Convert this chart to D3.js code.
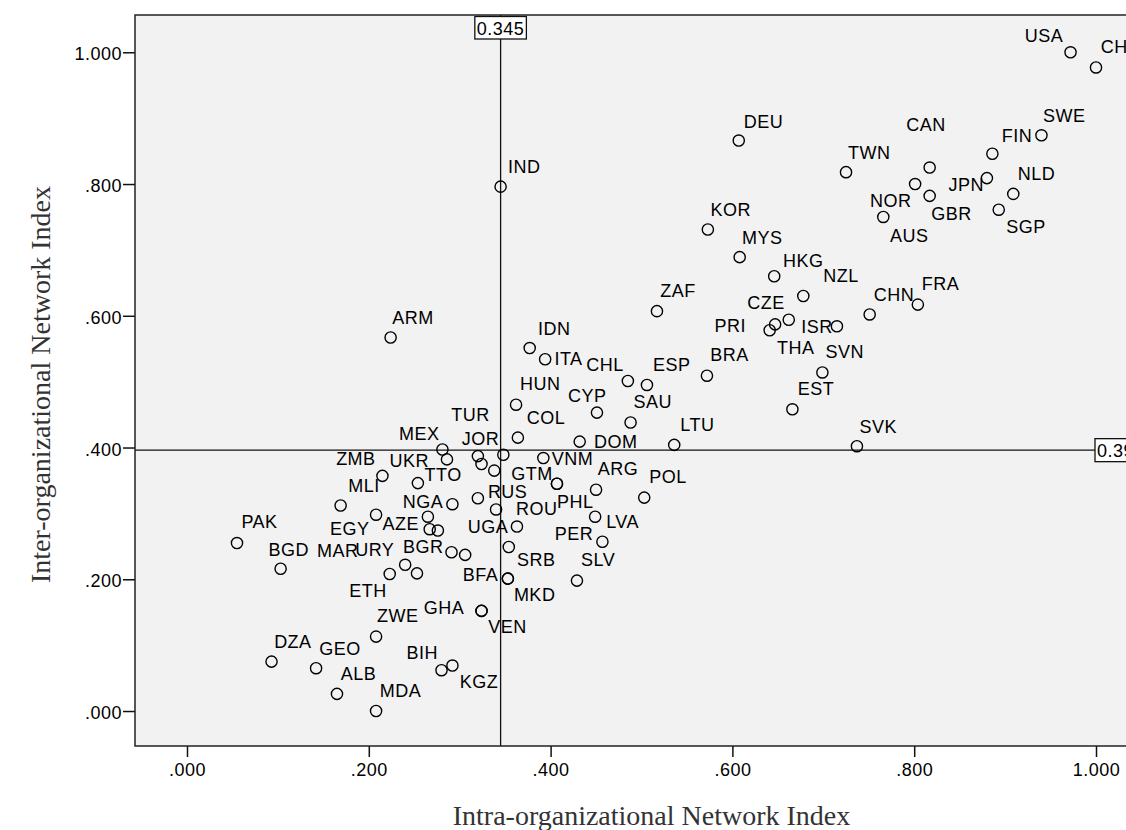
<!DOCTYPE html>
<html>
<head>
<meta charset="utf-8">
<script src="https://cdn.jsdelivr.net/npm/d3@7/dist/d3.min.js"></script>
<style>
  html, body { margin: 0; padding: 0; background: #ffffff; }
  svg { display: block; }
  .tick text, .pt-label, .ref-label { font-family: "Liberation Sans", Arial, sans-serif; font-size: 18px; letter-spacing: 0.5px; fill: #000; }
  .axis-title { font-family: "Liberation Serif", "Times New Roman", serif; font-size: 28px; fill: #333; }
</style>
</head>
<body>
<svg id="chart" width="1126" height="830"></svg>
<script>
// Country codes (ISO 3166 alpha-3) with their two network indices
const codes = ["USA","CHE","SWE","FIN","CAN","TWN","NLD","JPN","NOR","GBR","SGP","AUS",
  "DEU","IND","KOR","MYS","HKG","NZL","CHN","FRA","ZAF","CZE","PRI","THA","ISR","SVN",
  "EST","SVK","IDN","ITA","CHL","ESP","BRA","SAU","CYP","HUN","COL","LTU","DOM","ARM",
  "VNM","GTM","PHL","ARG","POL","LVA","PER","UGA","SRB","SLV","BFA","MKD","MEX","UKR",
  "TUR","JOR","ZMB","TTO","MLI","NGA","RUS","ROU","EGY","AZE","PAK","BGD","MAR","URY",
  "BGR","ETH","GHA","VEN","ZWE","DZA","GEO","BIH","KGZ","ALB","MDA",
  "","","","",""];

// Intra-organizational Network Index
const intra = [0.972,1.000,0.940,0.886,0.817,0.725,0.909,0.880,0.801,0.817,0.893,0.766,
  0.607,0.345,0.573,0.608,0.646,0.678,0.751,0.804,0.517,0.662,0.647,0.641,0.715,0.699,
  0.666,0.737,0.377,0.394,0.485,0.506,0.572,0.488,0.451,0.362,0.364,0.536,0.432,0.224,
  0.392,0.407,0.407,0.450,0.503,0.449,0.457,0.363,0.354,0.429,0.353,0.353,0.281,0.286,
  0.320,0.348,0.215,0.254,0.169,0.292,0.320,0.340,0.208,0.267,0.055,0.103,0.223,0.240,
  0.291,0.253,0.324,0.324,0.208,0.093,0.142,0.280,0.292,0.165,0.208,
  0.324,0.338,0.265,0.276,0.306];

// Inter-organizational Network Index
const inter = [1.000,0.977,0.874,0.846,0.825,0.818,0.785,0.809,0.800,0.782,0.761,0.750,
  0.866,0.796,0.731,0.689,0.660,0.630,0.602,0.617,0.607,0.594,0.587,0.578,0.584,0.514,
  0.458,0.402,0.551,0.534,0.501,0.495,0.509,0.438,0.453,0.465,0.415,0.404,0.409,0.567,
  0.384,0.345,0.345,0.336,0.324,0.295,0.257,0.280,0.249,0.198,0.201,0.201,0.397,0.382,
  0.387,0.389,0.357,0.346,0.312,0.314,0.323,0.306,0.298,0.276,0.255,0.216,0.208,0.222,
  0.241,0.209,0.152,0.152,0.113,0.075,0.065,0.062,0.069,0.026,0.000,
  0.375,0.365,0.295,0.274,0.237];

// Reference lines (means of the two indices)
const refIntra = 0.345;
const refInter = 0.396;

const xTicks = [0, 0.2, 0.4, 0.6, 0.8, 1.0];
const yTicks = [0, 0.2, 0.4, 0.6, 0.8, 1.0];

// Label placement: offset of text start / baseline from the marker centre
const labelShift = {
  USA:[-45.7,-10], CHE:[4.7,-14], SWE:[1.6,-13.3], FIN:[9.4,-12], CAN:[-23.3,-36.7],
  TWN:[2,-13], NLD:[4.4,-14], JPN:[-38.4,12.7], NOR:[-45,22.7], GBR:[1.7,24.3],
  SGP:[7.4,23], AUS:[6.7,25], DEU:[5,-12.6], IND:[7.3,-13.7], KOR:[2.7,-13.3],
  MYS:[2.4,-13.3], HKG:[8.7,-9.3], NZL:[20,-14], CHN:[4,-13.6], FRA:[4,-14.3],
  ZAF:[3.3,-13.7], CZE:[-41.6,-10.7], PRI:[-60.7,7.4], THA:[7.4,24], ISR:[-35.6,6.3],
  SVN:[3,-14], EST:[5.4,-14.3], SVK:[2.6,-13.3], IDN:[8.3,-13.3], ITA:[9.3,5.7],
  CHL:[-41.7,-10], ESP:[6,-14.3], BRA:[3.3,-14.3], SAU:[3,-14.4], CYP:[-29,-11],
  HUN:[4,-14.3], COL:[9,-13.7], LTU:[6,-14], DOM:[14.3,6.6], ARM:[1.6,-14],
  VNM:[8.4,6.7], GTM:[-45.7,-3.7], PHL:[0,24], ARG:[1.7,-14.3], POL:[5,-14.4],
  LVA:[11,11.6], PER:[-47.7,-1.7], UGA:[-49.3,6.3], SRB:[8.2,18.7], SLV:[4,-14.7],
  BFA:[-45.2,2], MKD:[6,22.2], MEX:[-43.4,-10], UKR:[-57.4,8], TUR:[-26.6,-35],
  JOR:[-41.6,-10], ZMB:[-46.3,-10.7], TTO:[6.7,-1.6], MLI:[7.6,-13.6], NGA:[-49.6,3.4],
  RUS:[10,0], ROU:[20,5.7], EGY:[-46,20], AZE:[-47.3,0.7], PAK:[4.4,-14.7],
  BGD:[-12,-13], MAR:[-72.6,-17.3], URY:[-50,-8.3], BGR:[-48.4,1], ETH:[-67.7,24],
  GHA:[-57.7,3.3], VEN:[6.8,21.8], ZWE:[1,-15], DZA:[2.6,-13.4], GEO:[3.3,-13.3],
  BIH:[-35,-10.7], KGZ:[7.3,22.6], ALB:[3.7,-14], MDA:[3.6,-14]
};

const svg = d3.select("#chart");
const frame = { left: 135, top: 15, right: 1148, bottom: 746 };

const x = d3.scaleLinear().domain([-0.0572, 1.0572]).range([frame.left, frame.right]);
const y = d3.scaleLinear().domain([-0.0531, 1.0566]).range([frame.bottom, frame.top]);

const fmt = v => d3.format(".3f")(v).replace(/^0\./, ".");

// plot area
svg.append("rect")
  .attr("x", frame.left).attr("y", frame.top)
  .attr("width", frame.right - frame.left).attr("height", frame.bottom - frame.top)
  .attr("fill", "#f2f2f2");

// axes
const xAxis = svg.append("g")
  .attr("transform", `translate(0,${frame.bottom})`)
  .call(d3.axisBottom(x).tickValues(xTicks).tickFormat(fmt).tickSizeInner(11).tickSizeOuter(0).tickPadding(4));
const yAxis = svg.append("g")
  .attr("transform", `translate(${frame.left},0)`)
  .call(d3.axisLeft(y).tickValues(yTicks).tickFormat(fmt).tickSizeInner(12).tickSizeOuter(0).tickPadding(1));
[xAxis, yAxis].forEach(g => {
  g.select(".domain").remove();
  g.selectAll(".tick line").attr("stroke", "#111").attr("stroke-width", 1.5);
});
yAxis.selectAll(".tick text").attr("dy", "0.42em");
xAxis.selectAll(".tick text").attr("dy", "0.82em");

// reference lines
svg.append("line")
  .attr("x1", x(refIntra)).attr("x2", x(refIntra))
  .attr("y1", frame.top).attr("y2", frame.bottom)
  .attr("stroke", "#111").attr("stroke-width", 1.3);
svg.append("line")
  .attr("x1", frame.left).attr("x2", frame.right)
  .attr("y1", y(refInter)).attr("y2", y(refInter))
  .attr("stroke", "#111").attr("stroke-width", 1.3);

// frame border
svg.append("rect")
  .attr("x", frame.left).attr("y", frame.top)
  .attr("width", frame.right - frame.left).attr("height", frame.bottom - frame.top)
  .attr("fill", "none").attr("stroke", "#222").attr("stroke-width", 1.5);

// markers
const pts = codes.map((c, i) => ({ code: c, ix: intra[i], iy: inter[i] }));
svg.append("g").selectAll("circle").data(pts).join("circle")
  .attr("cx", d => x(d.ix)).attr("cy", d => y(d.iy))
  .attr("r", 5.6)
  .attr("fill", "none").attr("stroke", "#000").attr("stroke-width", 1.4);

// point labels
svg.append("g").selectAll("text").data(pts.filter(d => d.code)).join("text")
  .attr("class", "pt-label")
  .attr("x", d => x(d.ix) + (labelShift[d.code] || [5, -13.5])[0])
  .attr("y", d => y(d.iy) + (labelShift[d.code] || [5, -13.5])[1])
  .text(d => d.code);

// reference value boxes
{
  const g = svg.append("g");
  const t = g.append("text").attr("class", "ref-label").text(refIntra.toFixed(3));
  const w = t.node().getComputedTextLength() + 4;
  const bx = x(refIntra) - w / 2, by = frame.top + 1.5;
  t.attr("x", bx + 2).attr("y", by + 18);
  g.insert("rect", "text").attr("x", bx).attr("y", by).attr("width", w).attr("height", 22.5)
    .attr("fill", "#fff").attr("stroke", "#111").attr("stroke-width", 1.3);
}
{
  const g = svg.append("g");
  const t = g.append("text").attr("class", "ref-label").text(refInter.toFixed(3));
  const w = t.node().getComputedTextLength() + 4;
  const bx = frame.right - 53, by = y(refInter) - 11.5;
  t.attr("x", bx + 2).attr("y", by + 18);
  g.insert("rect", "text").attr("x", bx).attr("y", by).attr("width", w).attr("height", 23)
    .attr("fill", "#fff").attr("stroke", "#111").attr("stroke-width", 1.3);
}

// axis titles
svg.append("text").attr("class", "axis-title")
  .attr("x", (frame.left + frame.right) / 2 + 10).attr("y", 825)
  .attr("text-anchor", "middle")
  .text("Intra-organizational Network Index");
svg.append("text").attr("class", "axis-title")
  .attr("transform", `translate(50,${(frame.top + frame.bottom) / 2 + 4}) rotate(-90)`)
  .attr("text-anchor", "middle")
  .text("Inter-organizational Network Index");
</script>
</body>
</html>
